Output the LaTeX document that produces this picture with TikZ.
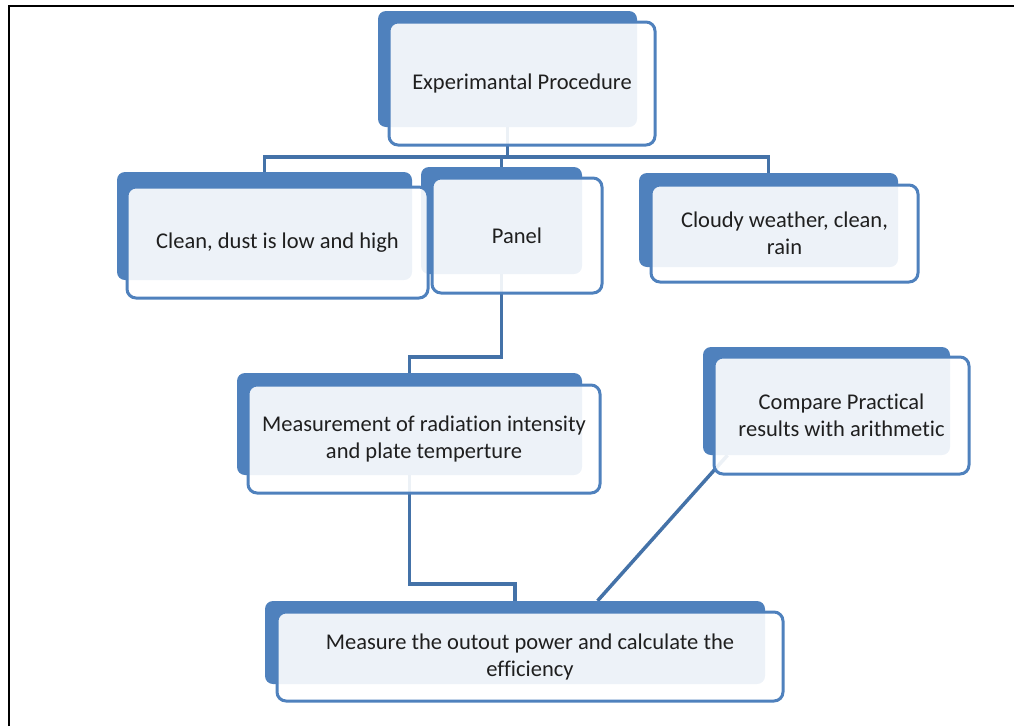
\documentclass[tikz,border=0pt]{standalone}
\usepackage{fontspec}
\setmainfont{Carlito}[Ligatures=NoCommon]
\usetikzlibrary{backgrounds, calc, positioning}
\usepackage{xcolor}
\definecolor{boxblue}{HTML}{4F81BD}
\definecolor{linkblue}{HTML}{4472A8}
\tikzset{
  backbox/.style={fill=boxblue, rounded corners=8pt, inner sep=0pt},
  frontbox/.style={draw=boxblue, line width=3pt, fill=white, fill opacity=0.9, text opacity=1,
    rounded corners=9pt, align=center, inner sep=0pt, text=black!88,
    font=\fontsize{22.5}{27}\selectfont},
  link/.style={draw=linkblue, line width=3.5pt},
}

\begin{document}
\begin{tikzpicture}[x=1pt, y=-1pt]
\useasboundingbox (0,0) rectangle (1014,726);
\draw[line width=2pt] (9,726) -- (9,6) -- (1014,6);
% back boxes
\node[backbox, minimum width=259pt, minimum height=116pt] (proc-back) at (507.5,69) {};
\node[backbox, minimum width=295pt, minimum height=108pt] (clean-back) at (264.5,226) {};
\node[backbox, minimum width=161pt, minimum height=107pt] (panel-back) at (501.5,220.5) {};
\node[backbox, minimum width=259pt, minimum height=94pt] (weather-back) at (768.5,220) {};
\node[backbox, minimum width=345pt, minimum height=102pt] (measure-back) at (409.5,424) {};
\node[backbox, minimum width=247pt, minimum height=108pt] (compare-back) at (826.5,401) {};
\node[backbox, minimum width=500pt, minimum height=83pt] (power-back) at (515,642.5) {};
% front boxes
\node[frontbox, minimum width=266pt, minimum height=123pt] (proc) at (522,83.5) {Experimantal Procedure};
\node[frontbox, minimum width=301pt, minimum height=111pt] (clean) at (277.5,242.5) {Clean, dust is low and high};
\node[frontbox, minimum width=170pt, minimum height=115pt] (panel) at (517,235.5) {Panel};
\node[frontbox, minimum width=267pt, minimum height=97pt] (weather) at (784.5,233.5) {Cloudy weather, clean,\\rain};
\node[frontbox, minimum width=352pt, minimum height=108pt] (measure) at (424,439) {Measurement of radiation intensity\\and plate temperture};
\node[frontbox, minimum width=255pt, minimum height=117pt] (compare) at (841.5,415.5) {Compare Practical\\results with arithmetic};
\node[frontbox, minimum width=506pt, minimum height=89pt] (power) at (530,656.5) {Measure the outout power and calculate the\\efficiency};
% connectors
\begin{scope}[on background layer]
\coordinate (bar) at (0,157);
\draw[link] (proc-back.south) -- (proc-back.south |- bar);
\draw[link] (clean-back.north) -- (clean-back.north |- bar) -- (weather-back.north |- bar) -- (weather-back.north);
\draw[link] (panel-back.north) -- (panel-back.north |- bar);
\draw[link] (panel-back.south) -- ++(0,83) -| (measure-back.north);
\draw[link] (measure-back.south) -- ++(0,109) -| (power-back.north);
\draw[link] ($(compare-back.south west)!0.1!(compare-back.south east)$) -- ($(power-back.north west)!0.665!(power-back.north east)$);
\end{scope}
\end{tikzpicture}
\end{document}
